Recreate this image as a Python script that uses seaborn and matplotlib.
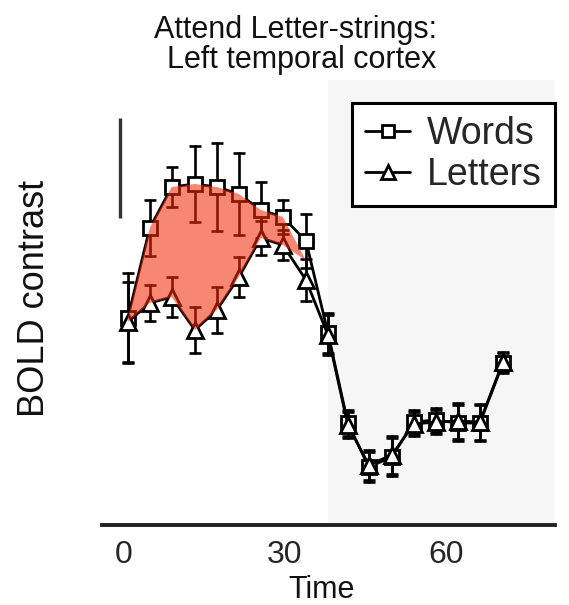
import numpy as np
import pandas as pd
import matplotlib
matplotlib.use("Agg")
import matplotlib.pyplot as plt
from matplotlib.lines import Line2D
import seaborn as sns

# ---- data ----
time = [0.7, 4.8, 8.9, 13.2, 17.3, 21.4, 25.5, 29.6, 33.9, 38.0,
        41.7, 45.6, 49.9, 54.0, 58.1, 62.2, 66.3, 70.6]
words = [0.32, 1.22, 1.63, 1.66, 1.63, 1.56, 1.40, 1.33, 1.09, 0.17,
         -0.73, -1.17, -1.07, -0.72, -0.70, -0.73, -0.73, -0.13]
words_err = [0.45, 0.28, 0.20, 0.38, 0.44, 0.41, 0.28, 0.17, 0.27, 0.20,
             0.13, 0.15, 0.19, 0.12, 0.12, 0.18, 0.18, 0.10]
letters = [0.28, 0.47, 0.53, 0.20, 0.40, 0.73, 1.12, 1.05, 0.70, 0.15,
           -0.75, -1.15, -1.05, -0.74, -0.72, -0.71, -0.72, -0.12]
letters_err = [0.40, 0.18, 0.20, 0.23, 0.23, 0.20, 0.17, 0.15, 0.21, 0.20,
               0.13, 0.15, 0.19, 0.12, 0.12, 0.18, 0.18, 0.10]
series_names = ["Words", "Letters"]
xticks = [0, 30, 60]
rest_start = 38.0          # start of the shaded (rest) period
scale_bar = 1.0            # height of the vertical scale bar

title_lines = ["Attend Letter-strings:", "Left temporal cortex"]

# ---- long-form table: two rows per point (mean -/+ err) so that SE == err ----
def long_form(name, m, e):
    rows = []
    for t, mm, ee in zip(time, m, e):
        rows.append((name, t, mm - ee))
        rows.append((name, t, mm + ee))
    return pd.DataFrame(rows, columns=["series", "Time", "BOLD"])

df_w = long_form(series_names[0], words, words_err)
df_l = long_form(series_names[1], letters, letters_err)

sns.set_theme(style="white")
plt.rcParams["font.family"] = ["Liberation Sans", "DejaVu Sans"]

fig = plt.figure(figsize=(5.69, 6.05), dpi=100)
L, R, B, T = 102 / 569, 555 / 569, 1 - 525 / 605, 1 - 80 / 605
ax = fig.add_axes([L, B, R - L, T - B])
ax.set_facecolor("white")

xlim = (-4.1, 80.3)
ylim = (-1.75, 2.70)

ax.axvspan(rest_start, xlim[1], color="#f6f6f6", zorder=0, lw=0)

common = dict(x="Time", y="BOLD", errorbar="se", err_style="bars",
              color="black", lw=2.0, mec="black", mfc="white", mew=2.0,
              err_kws=dict(capsize=4.5, elinewidth=1.9, capthick=1.9, ecolor="black"),
              ax=ax, legend=False)
sns.lineplot(data=df_w, marker="s", ms=10, zorder=3, **common)
sns.lineplot(data=df_l, marker="^", ms=11, zorder=3, **common)

# red fill between Words and Letters during the early (task) period
t = np.asarray(time)
w = np.asarray(words)
l = np.asarray(letters)
n = 8
fx = np.concatenate([t[:n], [t[n]], t[n - 1::-1]])
fy = np.concatenate([w[:n], [(w[n] + l[n]) / 2], l[n - 1::-1]])
ax.fill(fx, fy, color="#f22a0a", alpha=0.57, lw=0, zorder=4)

# vertical scale bar
sb_x = -0.75
sb_top = 2.32
ax.plot([sb_x, sb_x], [sb_top - scale_bar, sb_top], color="#333333", lw=2.4,
        solid_capstyle="butt", zorder=3)

ax.set_xlim(*xlim)
ax.set_ylim(*ylim)
ax.set_xticks(xticks)
ax.set_xticklabels([str(v) for v in xticks], fontsize=23)
ax.set_yticks([])
ax.tick_params(axis="x", length=0, pad=11)
ax.set_xlabel("")
ax.set_ylabel("")
for s in ["left", "right", "top"]:
    ax.spines[s].set_visible(False)
ax.spines["bottom"].set_linewidth(2.8)
ax.spines["bottom"].set_color("#222222")

handles = [
    Line2D([], [], color="black", lw=2.0, marker="s", ms=9, mfc="white", mec="black", mew=2.0),
    Line2D([], [], color="black", lw=2.0, marker="^", ms=10, mfc="white", mec="black", mew=2.0),
]
leg = ax.legend(handles, series_names, loc="upper right",
                bbox_to_anchor=(555 / 569, 1 - 103 / 605), bbox_transform=fig.transFigure,
                fontsize=27, frameon=True, fancybox=False, framealpha=1,
                edgecolor="black", handlelength=1.2, handletextpad=0.45,
                borderpad=0.35, labelspacing=0.12, borderaxespad=0)
leg.get_frame().set_linewidth(2.2)
leg.set_zorder(10)

# title (two right-aligned lines)
fig.text(437 / 569, 1 - 38 / 605, title_lines[0], ha="right", va="baseline",
         fontsize=22, color="#111111")
fig.text(436 / 569, 1 - 68 / 605, title_lines[1], ha="right", va="baseline",
         fontsize=22, color="#111111")

fig.text(35 / 569, 1 - 298 / 605, "BOLD contrast", rotation=90, ha="center",
         va="center", fontsize=26, color="#111111")
fig.text(322 / 569, 1 - 590 / 605, "Time", ha="center", va="center",
         fontsize=22, color="#111111")

fig.savefig("out.png", dpi=100, facecolor="white")
